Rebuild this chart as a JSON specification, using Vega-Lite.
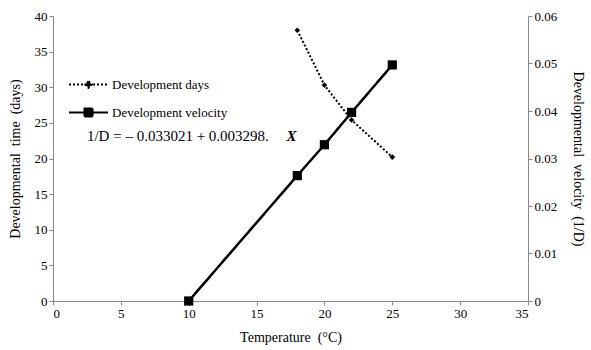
{
  "$schema": "https://vega.github.io/schema/vega-lite/v6.json",
  "width": 475,
  "height": 285,
  "autosize": {"type": "none"},
  "padding": {"left": 53, "top": 16, "right": 63, "bottom": 49},
  "background": "white",
  "config": {
    "view": {"stroke": null},
    "font": "Liberation Serif",
    "axis": {
      "labelFont": "Liberation Serif",
      "labelFontSize": 13,
      "labelColor": "black",
      "titleFont": "Liberation Serif",
      "titleFontSize": 14,
      "titleFontWeight": "normal",
      "titleColor": "black",
      "domainColor": "#888888",
      "tickColor": "#888888",
      "tickSize": 4,
      "labelPadding": 2,
      "grid": false
    }
  },
  "datasets": {
    "days": [
      {"T": 18, "D": 38.0, "series": "Development days"},
      {"T": 20, "D": 30.3, "series": "Development days"},
      {"T": 22, "D": 25.4, "series": "Development days"},
      {"T": 25, "D": 20.2, "series": "Development days"}
    ],
    "velocity": [
      {"T": 10, "V": 0.0, "series": "Development velocity"},
      {"T": 18, "V": 0.0264, "series": "Development velocity"},
      {"T": 20, "V": 0.0329, "series": "Development velocity"},
      {"T": 22, "V": 0.0397, "series": "Development velocity"},
      {"T": 25, "V": 0.0497, "series": "Development velocity"}
    ],
    "eq": [{"label": "1/D = \u2013 0.033021 + 0.003298.", "x": "X"}]
  },
  "layer": [
    {
      "layer": [
        {
          "data": {"name": "days"},
          "mark": {"type": "line", "color": "black", "strokeWidth": 2},
          "encoding": {
            "x": {"field": "T", "type": "quantitative", "scale": {"domain": [0, 35]},
                  "axis": {"title": "Temperature\u00a0\u00a0(\u00b0C)", "values": [0,5,10,15,20,25,30,35], "titlePadding": 10}},
            "y": {"field": "D", "type": "quantitative", "scale": {"domain": [0, 40]},
                  "axis": {"title": "Developmental\u00a0\u00a0time\u00a0\u00a0(days)", "values": [0,5,10,15,20,25,30,35,40], "titlePadding": 12}},
            "strokeDash": {
              "field": "series", "type": "nominal",
              "scale": {"domain": ["Development days", "Development velocity"], "range": [[2, 2], [1, 0]]},
              "legend": {
                "title": null, "orient": "none", "legendX": 29, "legendY": 62, "padding": 0,
                "symbolSize": 100, "labelFont": "Liberation Serif", "labelFontSize": 13,
                "labelColor": "black", "labelOffset": 17, "rowPadding": 12,
                "symbolType": {"expr": "datum.value === 'Development days' ? 'M-3.9,0H3.9M0,-0.65L0.65,0L0,0.65L-0.65,0Z' : 'M-3.9,0H3.9M-0.8,-0.8H0.8V0.8H-0.8Z'"},
                "symbolFillColor": "black",
                "symbolStrokeColor": "black",
                "symbolStrokeWidth": 2,
                "symbolOpacity": 1
              }
            }
          }
        },
        {
          "data": {"name": "days"},
          "mark": {"type": "point", "shape": "diamond", "filled": true, "color": "black", "size": 32, "opacity": 1},
          "encoding": {
            "x": {"field": "T", "type": "quantitative", "scale": {"domain": [0, 35]},
                  "axis": {"title": "Temperature\u00a0\u00a0(\u00b0C)", "values": [0,5,10,15,20,25,30,35], "titlePadding": 10}},
            "y": {"field": "D", "type": "quantitative", "scale": {"domain": [0, 40]},
                  "axis": {"title": "Developmental\u00a0\u00a0time\u00a0\u00a0(days)", "values": [0,5,10,15,20,25,30,35,40], "titlePadding": 12}}
          }
        },
        {
          "data": {"name": "eq"},
          "mark": {"type": "text", "align": "left", "baseline": "middle", "font": "Liberation Serif", "fontSize": 15, "color": "black"},
          "encoding": {
            "x": {"datum": 2.5, "type": "quantitative", "scale": {"domain": [0, 35]},
                  "axis": {"title": "Temperature\u00a0\u00a0(\u00b0C)", "values": [0,5,10,15,20,25,30,35], "titlePadding": 10}},
            "y": {"datum": 23.1, "type": "quantitative", "scale": {"domain": [0, 40]},
                  "axis": {"title": "Developmental\u00a0\u00a0time\u00a0\u00a0(days)", "values": [0,5,10,15,20,25,30,35,40], "titlePadding": 12}},
            "text": {"field": "label"}
          }
        },
        {
          "data": {"name": "eq"},
          "mark": {"type": "text", "align": "left", "baseline": "middle", "font": "Liberation Serif", "fontSize": 15, "fontStyle": "italic", "fontWeight": "bold", "color": "black"},
          "encoding": {
            "x": {"datum": 17.2, "type": "quantitative", "scale": {"domain": [0, 35]},
                  "axis": {"title": "Temperature\u00a0\u00a0(\u00b0C)", "values": [0,5,10,15,20,25,30,35], "titlePadding": 10}},
            "y": {"datum": 23.1, "type": "quantitative", "scale": {"domain": [0, 40]},
                  "axis": {"title": "Developmental\u00a0\u00a0time\u00a0\u00a0(days)", "values": [0,5,10,15,20,25,30,35,40], "titlePadding": 12}},
            "text": {"field": "x"}
          }
        }
      ]
    },
    {
      "layer": [
        {
          "data": {"name": "velocity"},
          "mark": {"type": "line", "color": "black", "strokeWidth": 2.5},
          "encoding": {
            "x": {"field": "T", "type": "quantitative", "scale": {"domain": [0, 35]},
                  "axis": {"title": "Temperature\u00a0\u00a0(\u00b0C)", "values": [0,5,10,15,20,25,30,35], "titlePadding": 10}},
            "y": {"field": "V", "type": "quantitative", "scale": {"domain": [0, 0.06]},
                  "axis": {"orient": "right", "title": "Developmental\u00a0\u00a0velocity\u00a0\u00a0(1/D)", "values": [0,0.01,0.02,0.03,0.04,0.05,0.06], "format": "~g", "titlePadding": 14}},
            "strokeDash": {
              "field": "series", "type": "nominal",
              "scale": {"domain": ["Development days", "Development velocity"], "range": [[2, 2], [1, 0]]},
              "legend": {
                "title": null, "orient": "none", "legendX": 29, "legendY": 62, "padding": 0,
                "symbolSize": 100, "labelFont": "Liberation Serif", "labelFontSize": 13,
                "labelColor": "black", "labelOffset": 17, "rowPadding": 12,
                "symbolType": {"expr": "datum.value === 'Development days' ? 'M-3.9,0H3.9M0,-0.65L0.65,0L0,0.65L-0.65,0Z' : 'M-3.9,0H3.9M-0.8,-0.8H0.8V0.8H-0.8Z'"},
                "symbolFillColor": "black",
                "symbolStrokeColor": "black",
                "symbolStrokeWidth": 2,
                "symbolOpacity": 1
              }
            }
          }
        },
        {
          "data": {"name": "velocity"},
          "mark": {"type": "point", "shape": "square", "filled": true, "color": "black", "size": 85, "opacity": 1},
          "encoding": {
            "x": {"field": "T", "type": "quantitative", "scale": {"domain": [0, 35]},
                  "axis": {"title": "Temperature\u00a0\u00a0(\u00b0C)", "values": [0,5,10,15,20,25,30,35], "titlePadding": 10}},
            "y": {"field": "V", "type": "quantitative", "scale": {"domain": [0, 0.06]},
                  "axis": {"orient": "right", "title": "Developmental\u00a0\u00a0velocity\u00a0\u00a0(1/D)", "values": [0,0.01,0.02,0.03,0.04,0.05,0.06], "format": "~g", "titlePadding": 14}}
          }
        }
      ]
    }
  ],
  "resolve": {"scale": {"y": "independent"}}
}
